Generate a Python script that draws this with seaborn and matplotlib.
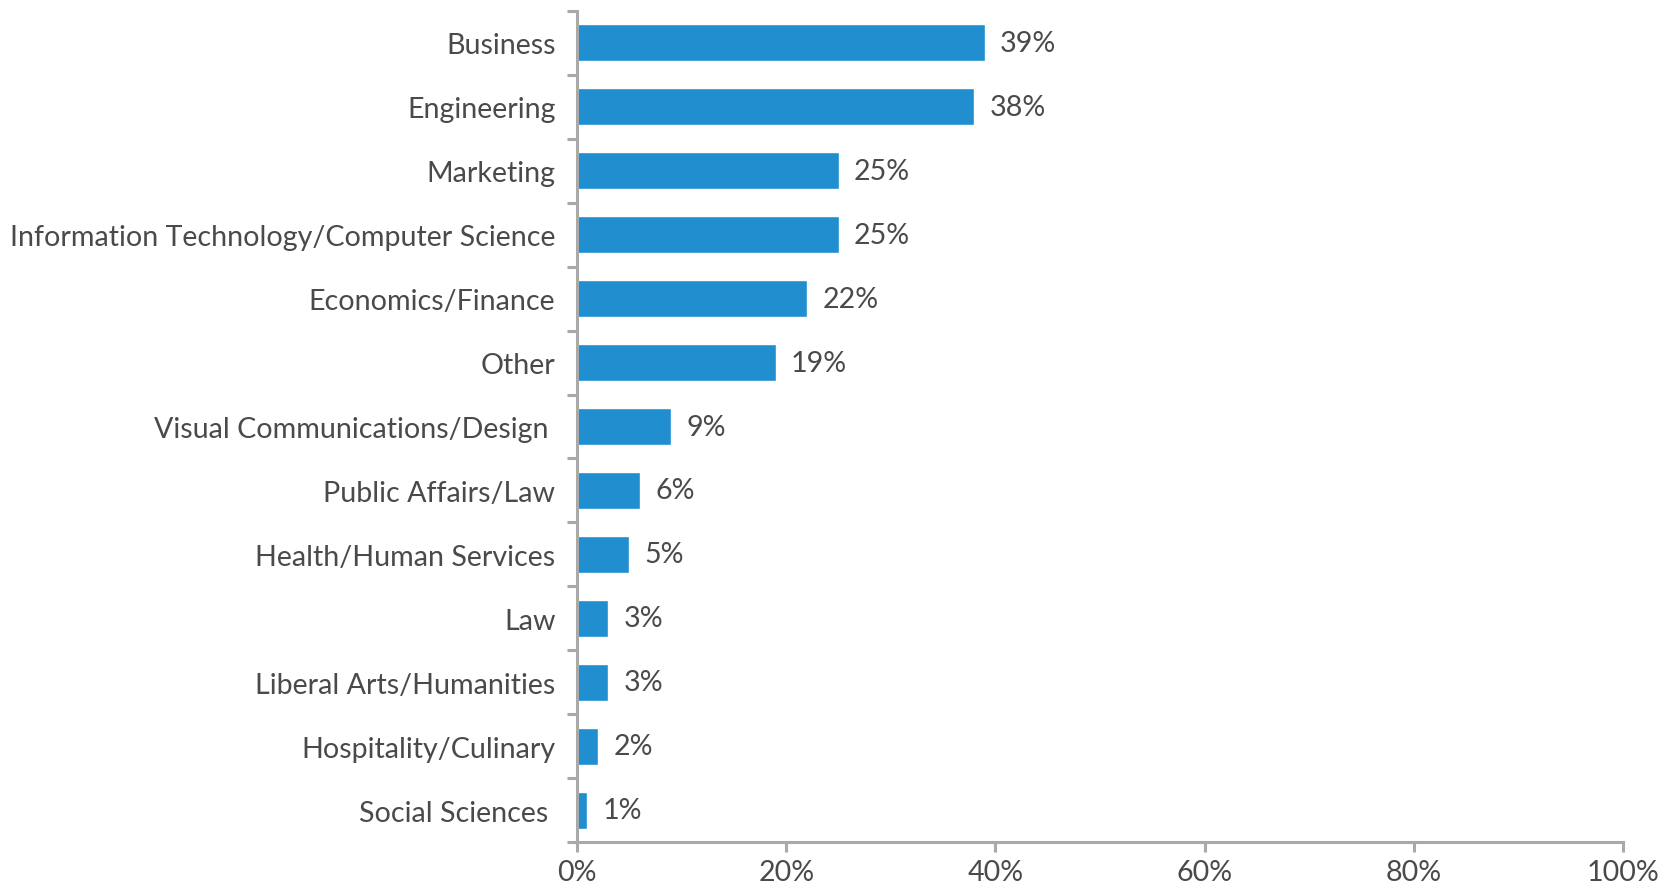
import matplotlib
matplotlib.use("Agg")
import matplotlib.pyplot as plt
import seaborn as sns
import pandas as pd
import numpy as np
from matplotlib.ticker import FixedLocator, PercentFormatter

categories = [
    "Business",
    "Engineering",
    "Marketing",
    "Information Technology/Computer Science",
    "Economics/Finance",
    "Other",
    "Visual Communications/Design ",
    "Public Affairs/Law",
    "Health/Human Services",
    "Law",
    "Liberal Arts/Humanities",
    "Hospitality/Culinary",
    "Social Sciences ",
]
shares = [39, 38, 25, 25, 22, 19, 9, 6, 5, 3, 3, 2, 1]
x_ticks = [0, 20, 40, 60, 80, 100]

sns.set_theme(style="white")
plt.rcParams["font.family"] = ["Lato", "DejaVu Sans"]

BAR = "#208ecf"
AXIS = "#a9a9a9"
TEXT = "#4a4a4a"
FS = 20.6

df = pd.DataFrame({"category": categories, "share": shares})

fig = plt.figure(figsize=(16.73, 8.87), dpi=100)
ax = fig.add_axes([577 / 1673, 1 - 843 / 887, (1623 - 577) / 1673, (843 - 12) / 887])

sns.barplot(data=df, x="share", y="category", orient="h", color=BAR,
            saturation=1, width=0.58, ax=ax)

ax.set_xlim(0, 100)
ax.set_ylim(len(categories) - 0.5, -0.5)
ax.set_xlabel("")
ax.set_ylabel("")

for side in ("top", "right"):
    ax.spines[side].set_visible(False)
for side in ("left", "bottom"):
    ax.spines[side].set_color(AXIS)
    ax.spines[side].set_linewidth(2.2)

ax.xaxis.set_major_locator(FixedLocator(x_ticks))
ax.xaxis.set_major_formatter(PercentFormatter(decimals=0))
ax.tick_params(axis="x", which="major", direction="out", length=7.5, width=2.2,
               color=AXIS, labelsize=FS, labelcolor=TEXT, pad=5, bottom=True)

ax.tick_params(axis="y", which="major", length=0, labelsize=FS, labelcolor=TEXT, pad=15.5)
ax.yaxis.set_minor_locator(FixedLocator(np.arange(-0.5, len(categories), 1.0)))
ax.tick_params(axis="y", which="minor", direction="out", length=7.5, width=2.2,
               color=AXIS, left=True)
for lbl in ax.get_yticklabels():
    lbl.set_y(lbl.get_position()[1])
    lbl.set_verticalalignment("center_baseline")

for container in ax.containers:
    ax.bar_label(container, labels=[f"{v}%" for v in shares], padding=11,
                 fontsize=FS, color=TEXT)

fig.savefig("out.png", dpi=100)
